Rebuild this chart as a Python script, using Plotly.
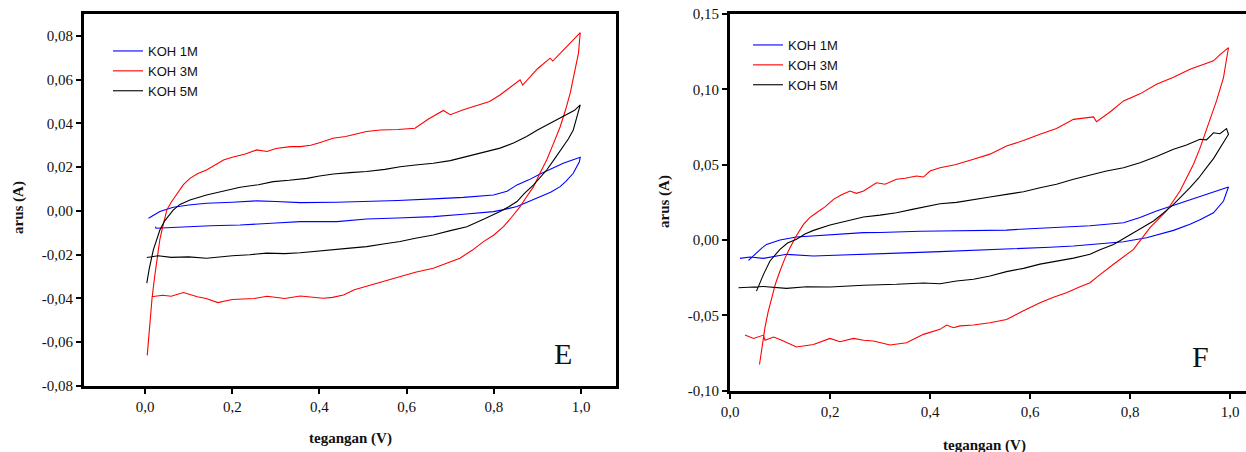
import plotly.graph_objects as go

# ---------------- Panel E data (voltage V, current A) ----------------
e_1m_v = [0.008, 0.02, 0.034, 0.05, 0.065, 0.1, 0.141, 0.2, 0.256, 0.3, 0.356, 0.44, 0.508, 0.58, 0.661, 0.73,
          0.799, 0.83, 0.853, 0.88, 0.906, 0.93, 0.959, 0.98, 0.998,
          0.996, 0.982, 0.965, 0.952, 0.93, 0.906, 0.88, 0.853, 0.82, 0.799, 0.73, 0.661, 0.58, 0.508, 0.44,
          0.356, 0.3, 0.218, 0.15, 0.1, 0.065, 0.04, 0.025, 0.024]
e_1m_i = [-0.0033, -0.0018, -0.0003, 0.0008, 0.0017, 0.0027, 0.0035, 0.0040, 0.0046, 0.0043, 0.0038, 0.0040, 0.0043,
          0.0048, 0.0055, 0.0062, 0.0073, 0.0090, 0.0119, 0.0142, 0.0169, 0.0192, 0.0218, 0.0233, 0.0245,
          0.0225, 0.0172, 0.0135, 0.0111, 0.0085, 0.0065, 0.0040, 0.0020, 0.0005, -0.0003, -0.0015, -0.0026,
          -0.0032, -0.0037, -0.0049, -0.0049, -0.0055, -0.0064, -0.0068, -0.0072, -0.0076, -0.0079, -0.0079, -0.0072]

e_3m_v = [0.005, 0.008, 0.011, 0.016, 0.022, 0.028, 0.034, 0.042, 0.05, 0.06, 0.073, 0.088, 0.103, 0.12, 0.141,
          0.16, 0.18, 0.2, 0.23, 0.256, 0.28, 0.3, 0.333, 0.356, 0.38, 0.40, 0.431, 0.46, 0.508, 0.54, 0.58,
          0.619, 0.65, 0.684, 0.7, 0.73, 0.768, 0.79, 0.814, 0.84, 0.86, 0.866, 0.9, 0.929, 0.935, 0.967, 0.98,
          0.998,
          0.994, 0.985, 0.975, 0.964, 0.952, 0.937, 0.921, 0.905, 0.891, 0.875, 0.86, 0.84, 0.822, 0.8, 0.776,
          0.75, 0.722, 0.69, 0.661, 0.62, 0.585, 0.55, 0.508, 0.48, 0.455, 0.43, 0.409, 0.38, 0.356, 0.32,
          0.28, 0.25, 0.2, 0.167, 0.14, 0.12, 0.088, 0.06, 0.04, 0.015]
e_3m_i = [-0.066, -0.058, -0.050, -0.040, -0.030, -0.021, -0.013, -0.006, 0.0005, 0.004, 0.008, 0.012, 0.0149,
          0.017, 0.0187, 0.021, 0.0233, 0.0245, 0.026, 0.0279, 0.0272, 0.0285, 0.0294, 0.0294, 0.030, 0.0312,
          0.0332, 0.034, 0.0363, 0.037, 0.0372, 0.0378, 0.042, 0.0459, 0.044, 0.0462, 0.0485, 0.050, 0.053,
          0.057, 0.0599, 0.0575, 0.065, 0.0698, 0.0685, 0.0751, 0.078, 0.0815,
          0.0721, 0.063, 0.0538, 0.046, 0.0385, 0.031, 0.0233, 0.017, 0.0111, 0.0065, 0.002, -0.003, -0.0072,
          -0.011, -0.014, -0.018, -0.0216, -0.024, -0.0262, -0.028, -0.030, -0.032, -0.0346, -0.036, -0.0384,
          -0.0395, -0.0399, -0.0392, -0.0389, -0.040, -0.039, -0.040, -0.0405, -0.0419, -0.040, -0.0392,
          -0.0373, -0.039, -0.0385, -0.0392]

e_5m_v = [0.004, 0.01, 0.019, 0.026, 0.034, 0.045, 0.065, 0.08, 0.103, 0.141, 0.18, 0.218, 0.26, 0.294, 0.33,
          0.371, 0.40, 0.432, 0.47, 0.508, 0.55, 0.585, 0.62, 0.661, 0.70, 0.738, 0.78, 0.814, 0.845, 0.875,
          0.90, 0.929, 0.95, 0.967, 0.985, 0.998,
          0.995, 0.99, 0.982, 0.971, 0.959, 0.94, 0.921, 0.905, 0.891, 0.87, 0.853, 0.835, 0.814, 0.78, 0.738,
          0.70, 0.661, 0.62, 0.585, 0.55, 0.508, 0.47, 0.432, 0.394, 0.356, 0.32, 0.279, 0.24, 0.2, 0.141, 0.1,
          0.06, 0.03, 0.004]
e_5m_i = [-0.033, -0.026, -0.0178, -0.013, -0.0087, -0.0045, 0.0005, 0.003, 0.005, 0.0073, 0.009, 0.0108,
          0.012, 0.0134, 0.014, 0.0149, 0.016, 0.0169, 0.0175, 0.018, 0.019, 0.0202, 0.021, 0.0218, 0.023,
          0.0248, 0.027, 0.0287, 0.031, 0.034, 0.037, 0.0401, 0.042, 0.0439, 0.046, 0.0485,
          0.0462, 0.042, 0.037, 0.033, 0.0294, 0.024, 0.0187, 0.015, 0.0119, 0.008, 0.0043, 0.002, -0.0003,
          -0.0035, -0.0072, -0.009, -0.011, -0.0125, -0.014, -0.015, -0.0163, -0.017, -0.0178, -0.0186,
          -0.0191, -0.0195, -0.0193, -0.020, -0.0205, -0.0216, -0.021, -0.0212, -0.0205, -0.0213]

# ---------------- Panel F data ----------------
f_1m_v = [0.037, 0.045, 0.053, 0.063, 0.073, 0.087, 0.1, 0.133, 0.167, 0.2, 0.233, 0.267, 0.3, 0.333, 0.38,
          0.42, 0.487, 0.553, 0.6, 0.653, 0.72, 0.787, 0.82, 0.853, 0.887, 0.92, 0.96, 0.997,
          0.987, 0.967, 0.94, 0.92, 0.887, 0.86, 0.833, 0.787, 0.74, 0.687, 0.64, 0.587, 0.54, 0.487, 0.42,
          0.35, 0.267, 0.2, 0.167, 0.113, 0.09, 0.067, 0.04, 0.02]
f_1m_i = [-0.0135, -0.011, -0.0084, -0.0055, -0.0029, -0.0012, 0.0, 0.002, 0.0028, 0.0033, 0.004, 0.0049,
          0.005, 0.0055, 0.0058, 0.006, 0.0062, 0.0066, 0.0075, 0.0082, 0.0095, 0.0115, 0.015, 0.0193, 0.023,
          0.027, 0.031, 0.0352,
          0.0259, 0.0181, 0.0135, 0.0104, 0.0064, 0.004, 0.0015, -0.0011, -0.0025, -0.004, -0.0048, -0.0055,
          -0.0062, -0.0073, -0.0077, -0.0085, -0.0095, -0.0102, -0.0106, -0.0095, -0.011, -0.0122, -0.0113,
          -0.0122]

f_3m_v = [0.059, 0.064, 0.07, 0.076, 0.083, 0.091, 0.1, 0.11, 0.12, 0.133, 0.147, 0.16, 0.173, 0.19, 0.207,
          0.223, 0.24, 0.253, 0.267, 0.28, 0.293, 0.31, 0.333, 0.35, 0.373, 0.387, 0.4, 0.42, 0.45, 0.487,
          0.52, 0.553, 0.587, 0.62, 0.653, 0.687, 0.727, 0.733, 0.76, 0.787, 0.82, 0.853, 0.887, 0.92, 0.94,
          0.967, 0.98, 0.997,
          0.992, 0.987, 0.973, 0.953, 0.94, 0.927, 0.913, 0.9, 0.873, 0.84, 0.807, 0.787, 0.767, 0.74, 0.72,
          0.7, 0.673, 0.647, 0.62, 0.587, 0.553, 0.52, 0.487, 0.46, 0.447, 0.433, 0.42, 0.387, 0.353, 0.32,
          0.287, 0.267, 0.247, 0.22, 0.2, 0.167, 0.133, 0.1, 0.087, 0.07, 0.067, 0.047, 0.03]
f_3m_i = [-0.0826, -0.07, -0.058, -0.048, -0.0383, -0.029, -0.0206, -0.012, -0.0051, 0.003, 0.0104, 0.015,
          0.0181, 0.022, 0.027, 0.030, 0.0325, 0.031, 0.0325, 0.035, 0.038, 0.037, 0.0403, 0.041, 0.0425,
          0.0418, 0.0458, 0.048, 0.050, 0.0536, 0.057, 0.0624, 0.066, 0.0702, 0.074, 0.0801, 0.0817, 0.0785,
          0.085, 0.0923, 0.097, 0.1034, 0.108, 0.1133, 0.1155, 0.1189, 0.123, 0.1277,
          0.118, 0.1078, 0.0923, 0.0724, 0.061, 0.0503, 0.041, 0.0325, 0.0193, 0.0082, -0.0062, -0.011,
          -0.0161, -0.023, -0.0283, -0.031, -0.035, -0.038, -0.0416, -0.047, -0.0527, -0.0549, -0.0564,
          -0.057, -0.0582, -0.0564, -0.0593, -0.0626, -0.0682, -0.0697, -0.067, -0.0665, -0.0653, -0.0675,
          -0.0653, -0.0693, -0.071, -0.066, -0.0644, -0.0665, -0.0631, -0.0653, -0.0631]

f_5m_v = [0.053, 0.06, 0.067, 0.08, 0.1, 0.115, 0.133, 0.15, 0.167, 0.2, 0.233, 0.267, 0.3, 0.333, 0.367, 0.4,
          0.42, 0.453, 0.487, 0.52, 0.553, 0.587, 0.62, 0.653, 0.687, 0.72, 0.753, 0.787, 0.82, 0.853, 0.887,
          0.913, 0.94, 0.953, 0.967, 0.98, 0.993,
          0.997, 0.98, 0.967, 0.953, 0.937, 0.92, 0.9, 0.887, 0.867, 0.847, 0.813, 0.79, 0.767, 0.74, 0.72,
          0.687, 0.653, 0.62, 0.587, 0.553, 0.52, 0.487, 0.453, 0.42, 0.387, 0.333, 0.267, 0.2, 0.153, 0.113,
          0.067, 0.04, 0.017]
f_5m_i = [-0.0339, -0.028, -0.0228, -0.0139, -0.0062, -0.002, 0.0005, 0.004, 0.0064, 0.01, 0.0125, 0.0153,
          0.0165, 0.0181, 0.0205, 0.0226, 0.0241, 0.025, 0.027, 0.0285, 0.0303, 0.032, 0.0347, 0.037, 0.0403,
          0.043, 0.0458, 0.048, 0.0513, 0.0555, 0.0602, 0.063, 0.0669, 0.0665, 0.0712, 0.0705, 0.0739,
          0.0702, 0.0613, 0.054, 0.048, 0.041, 0.0347, 0.028, 0.0237, 0.018, 0.0126, 0.006, 0.0015, -0.0029,
          -0.0065, -0.0095, -0.012, -0.0139, -0.016, -0.0188, -0.021, -0.0239, -0.026, -0.0272, -0.029,
          -0.0285, -0.0294, -0.030, -0.0312, -0.031, -0.0321, -0.0308, -0.0315, -0.0317]

series_names = ["KOH 1M", "KOH 3M", "KOH 5M"]
series_colors = ["#0000ff", "#ff0000", "#000000"]

x_tickvals = [0.0, 0.2, 0.4, 0.6, 0.8, 1.0]
x_ticktext = ["0,0", "0,2", "0,4", "0,6", "0,8", "1,0"]
e_y_tickvals = [-0.08, -0.06, -0.04, -0.02, 0.0, 0.02, 0.04, 0.06, 0.08]
e_y_ticktext = ["-0,08", "-0,06", "-0,04", "-0,02", "0,00", "0,02", "0,04", "0,06", "0,08"]
f_y_tickvals = [-0.10, -0.05, 0.0, 0.05, 0.10, 0.15]
f_y_ticktext = ["-0,10", "-0,05", "0,00", "0,05", "0,10", "0,15"]

W, H = 1246, 452


def px(xp):
    return xp / W


def py(yp):
    return 1 - yp / H


fig = go.Figure()

e_data = [(e_1m_v, e_1m_i), (e_3m_v, e_3m_i), (e_5m_v, e_5m_i)]
f_data = [(f_1m_v, f_1m_i), (f_3m_v, f_3m_i), (f_5m_v, f_5m_i)]

for (xv, yv), name, col in zip(e_data, series_names, series_colors):
    fig.add_trace(go.Scatter(x=xv, y=yv, mode="lines", name=name, line=dict(color=col, width=1.1),
                             xaxis="x", yaxis="y", legend="legend"))
for (xv, yv), name, col in zip(f_data, series_names, series_colors):
    fig.add_trace(go.Scatter(x=xv, y=yv, mode="lines", name=name, line=dict(color=col, width=1.1),
                             xaxis="x2", yaxis="y2", legend="legend2"))

SERIF = "Liberation Serif, Times New Roman, serif"
SANS = "Liberation Sans, Arial, sans-serif"
tickfont = dict(family=SERIF, size=15, color="#111")
axis_common = dict(showgrid=False, zeroline=False, showline=True, linecolor="black", linewidth=3,
                   ticks="outside", ticklen=5, tickwidth=1.5, tickcolor="black", tickfont=tickfont,
                   automargin=False)

fig.update_layout(
    width=W, height=H,
    margin=dict(l=0, r=0, t=0, b=0, autoexpand=False),
    paper_bgcolor="white", plot_bgcolor="white",
    xaxis=dict(domain=[px(84), px(616)], range=[-0.14, 1.08], tickvals=x_tickvals, ticktext=x_ticktext,
               anchor="y", mirror=True, **axis_common),
    yaxis=dict(domain=[py(386), py(14)], range=[-0.08, 0.09], tickvals=e_y_tickvals, ticktext=e_y_ticktext,
               anchor="x", mirror=True, **axis_common),
    xaxis2=dict(domain=[px(730), 1.0], range=[0.0, 1.032], tickvals=x_tickvals, ticktext=x_ticktext,
                anchor="y2", mirror=True, **axis_common),
    yaxis2=dict(domain=[py(390.7), py(14)], range=[-0.10, 0.15], tickvals=f_y_tickvals, ticktext=f_y_ticktext,
                anchor="x2", mirror=False, **axis_common),
    legend=dict(x=px(108), y=py(36), xanchor="left", yanchor="top", bgcolor="rgba(0,0,0,0)",
                font=dict(family=SANS, size=13, color="#111"), tracegroupgap=0, itemwidth=30),
    legend2=dict(x=px(748), y=py(30), xanchor="left", yanchor="top", bgcolor="rgba(0,0,0,0)",
                 font=dict(family=SANS, size=13, color="#111"), tracegroupgap=0, itemwidth=30),
    showlegend=True,
)

title_font = dict(family=SERIF, size=15, color="#111")
annotations = [
    dict(text="<b>arus (A)</b>", x=px(18), y=py(208), textangle=-90, font=title_font),
    dict(text="<b>arus (A)</b>", x=px(665), y=py(202), textangle=-90, font=title_font),
    dict(text="<b>tegangan (V)</b>", x=px(350), y=py(438), font=title_font),
    dict(text="<b>tegangan (V)</b>", x=px(985), y=py(445), font=title_font),
    dict(text="E", x=px(563), y=py(353), font=dict(family=SERIF, size=30, color="#111")),
    dict(text="F", x=px(1200), y=py(356), font=dict(family=SERIF, size=30, color="#111")),
]
for a in annotations:
    fig.add_annotation(xref="paper", yref="paper", showarrow=False, xanchor="center", yanchor="middle", **a)

fig.write_html("out.html", config={"displayModeBar": False},
               post_script="document.body.style.margin='0px';document.body.style.overflow='hidden';")
